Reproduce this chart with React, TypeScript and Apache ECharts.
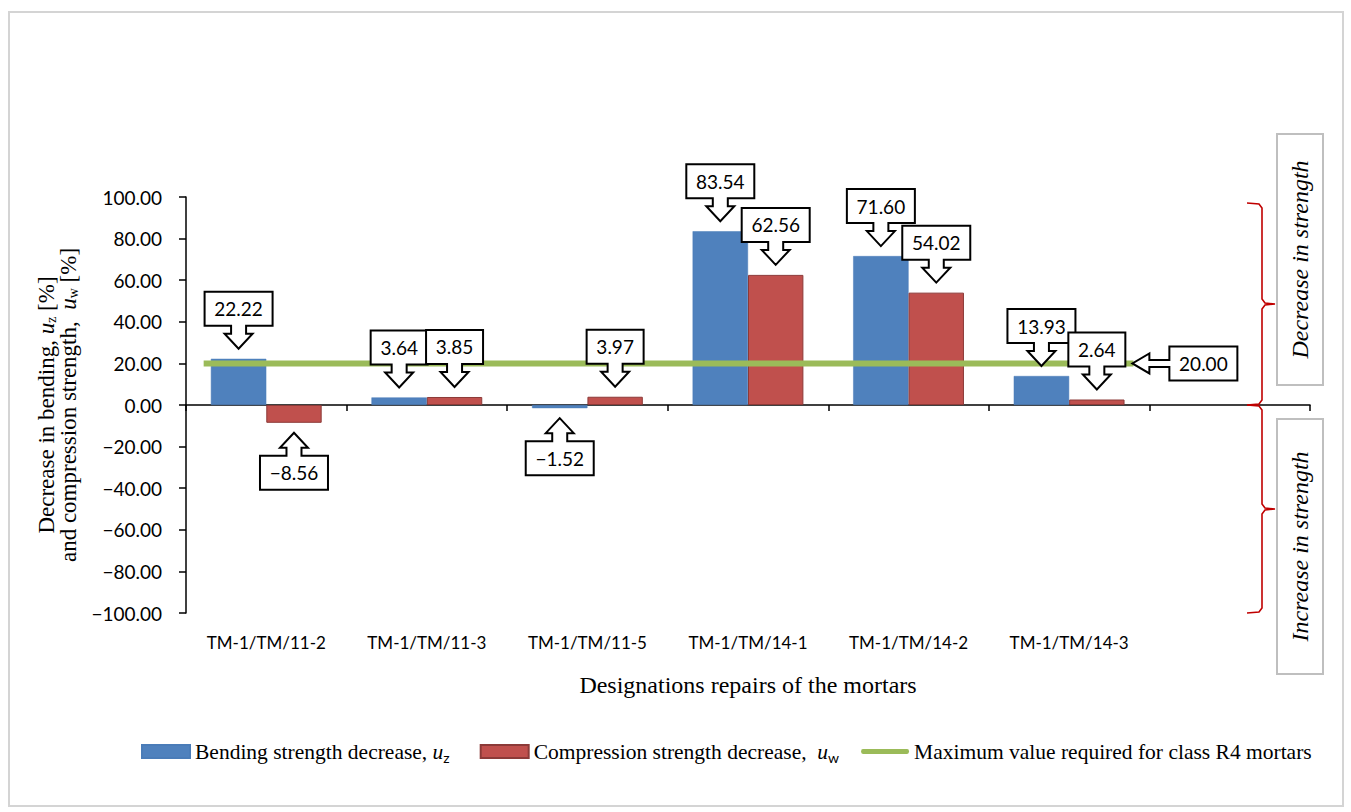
import React, { useEffect, useRef } from 'react';
import * as echarts from 'echarts';

const categories = ['TM-1/TM/11-2', 'TM-1/TM/11-3', 'TM-1/TM/11-5', 'TM-1/TM/14-1', 'TM-1/TM/14-2', 'TM-1/TM/14-3', ''];
const bendingDecrease = [22.22, 3.64, -1.52, 83.54, 71.6, 13.93];
const compressionDecrease = [-8.56, 3.85, 3.97, 62.56, 54.02, 2.64];
const limitValue = 20;
const limitSpan = [0.11, 5.9];
const yMin = -100;
const yMax = 100;
const yInterval = 20;

const seriesNames = [
  'Bending strength decrease, uz',
  'Compression strength decrease, uw',
  'Maximum value required for class R4 mortars',
];

const SANS = 'Lato, "Open Sans", sans-serif';
const SERIF = '"Liberation Serif", "Times New Roman", serif';
const CALLOUT_FONT = '19px Lato';
const BAR_CAT_GAP = 0.31;

let measureCtx: CanvasRenderingContext2D | null = null;
function textWidth(t: string, font: string) {
  if (!measureCtx) measureCtx = document.createElement('canvas').getContext('2d');
  if (!measureCtx) return t.length * 10;
  measureCtx.font = font;
  return measureCtx.measureText(t).width;
}

const fmt = (v: number) => v.toFixed(2).replace('-', '\u2212');

function callout(tx: number, ty: number, dir: 'up' | 'down' | 'left', text: string) {
  const w = Math.round(textWidth(text, CALLOUT_FONT) + 19);
  const boxH = 34;
  let points: number[][] = [];
  let cx = tx;
  let cy = ty;
  if (dir === 'down' || dir === 'up') {
    const shaftLen = 8, headLen = 15, sh = 7.5, hh = 14;
    const s = dir === 'down' ? -1 : 1;
    const b1 = ty + s * (headLen + shaftLen);
    const b0 = b1 + s * boxH;
    const hb = b1 - s * shaftLen;
    points = [
      [tx - w / 2, b0], [tx + w / 2, b0], [tx + w / 2, b1], [tx + sh, b1], [tx + sh, hb],
      [tx + hh, hb], [tx, ty], [tx - hh, hb], [tx - sh, hb], [tx - sh, b1], [tx - w / 2, b1],
    ];
    cy = (b0 + b1) / 2;
  } else {
    const headL = 17, shaftL = 20, sh = 3.5, hh = 10;
    const bx0 = tx + headL + shaftL;
    const bx1 = bx0 + w;
    points = [
      [bx0, ty - boxH / 2], [bx1, ty - boxH / 2], [bx1, ty + boxH / 2], [bx0, ty + boxH / 2],
      [bx0, ty + sh], [tx + headL, ty + sh], [tx + headL, ty + hh], [tx, ty],
      [tx + headL, ty - hh], [tx + headL, ty - sh], [bx0, ty - sh],
    ];
    cx = (bx0 + bx1) / 2;
  }
  return {
    type: 'group',
    children: [
      { type: 'polygon', shape: { points }, style: { fill: '#fff', stroke: '#000', lineWidth: 2 } },
      {
        type: 'text',
        x: cx,
        y: cy,
        style: { text, fill: '#000', font: CALLOUT_FONT, align: 'center', verticalAlign: 'middle' },
      },
    ],
  };
}

const barCallouts = [
  ...bendingDecrease.map((v, i) => [i, v, 0]),
  ...compressionDecrease.map((v, i) => [i, v, 1]),
];

export default function App() {
  const ref = useRef<HTMLDivElement>(null);
  useEffect(() => {
    if (!ref.current) return;
    const chart = echarts.init(ref.current, undefined, { renderer: 'svg' });
    const gap = 10;
    const option: any = {
      animation: false,
      backgroundColor: '#fff',
      grid: { left: 186, right: 41, top: 197, bottom: 199 },
      legend: {
        left: 141,
        top: 739,
        padding: 0,
        itemWidth: 48,
        itemHeight: 13,
        itemGap: 16,
        data: [
          { name: seriesNames[0], icon: 'rect' },
          { name: seriesNames[1], icon: 'rect' },
          {
            name: seriesNames[2],
            icon: 'path://M2,0 L48,0 Q50,0 50,2.5 Q50,5 48,5 L2,5 Q0,5 0,2.5 Q0,0 2,0 Z',
            itemStyle: { color: '#9BBB59', borderWidth: 0 },
          },
        ],
        formatter: (name: string) => {
          if (name === seriesNames[0]) return '{a|Bending strength decrease, }{i|u}{s|z}{g|}';
          if (name === seriesNames[1]) return '{a|Compression strength decrease, }{i| u}{s|w}{h|}';
          return '{a|Maximum value required for class R4 mortars}';
        },
        textStyle: {
          padding: [0, 0, 0, 0],
          rich: {
            a: { fontFamily: SERIF, fontSize: 21.5, color: '#000', lineHeight: 24 },
            i: { fontFamily: SERIF, fontSize: 21.5, fontStyle: 'italic', color: '#000', lineHeight: 24 },
            s: { fontFamily: SANS, fontSize: 14, color: '#000', padding: [11, 0, 0, 0], lineHeight: 24 },
            g: { width: 14, lineHeight: 24 },
            h: { width: 6, lineHeight: 24 },
          },
        },
      },
      xAxis: [
        {
          type: 'category',
          data: categories,
          position: 'bottom',
          axisLine: { onZero: true, lineStyle: { color: '#000', width: 1.5 } },
          axisTick: { show: true, length: 6, lineStyle: { color: '#000', width: 1.5 } },
          axisLabel: { show: false },
          splitLine: { show: false },
        },
        {
          type: 'category',
          data: categories,
          position: 'bottom',
          axisLine: { show: false, onZero: false },
          axisTick: { show: false },
          axisLabel: { interval: 0, fontFamily: SANS, fontSize: 17, color: '#000', margin: 21 },
          name: 'Designations repairs of the mortars',
          nameLocation: 'middle',
          nameGap: 60,
          nameTextStyle: { fontFamily: SERIF, fontSize: 24, color: '#000' },
        },
        { type: 'value', min: 0, max: categories.length, show: false, position: 'top' },
      ],
      yAxis: {
        type: 'value',
        min: yMin,
        max: yMax,
        interval: yInterval,
        axisLine: { show: true, lineStyle: { color: '#000', width: 1.5 } },
        axisTick: { show: true, length: 7, lineStyle: { color: '#000', width: 1.5 } },
        splitLine: { show: false },
        axisLabel: { formatter: (v: number) => fmt(v), fontFamily: SANS, fontSize: 19, color: '#000', margin: 24 },
        name: '{a|Decrease in bending, }{i|u}{s|z}{a| [%]}\n{a|and compression strength,  }{i|u}{s|w}{a| [%]}',
        nameLocation: 'middle',
        nameRotate: 90,
        nameGap: 104,
        nameTextStyle: {
          rich: {
            a: { fontFamily: SERIF, fontSize: 23, color: '#000', lineHeight: 22 },
            i: { fontFamily: SERIF, fontSize: 23, fontStyle: 'italic', color: '#000', lineHeight: 22 },
            s: { fontFamily: SERIF, fontSize: 14, color: '#000', padding: [10, 0, 0, 0], lineHeight: 22 },
          },
        },
      },
      series: [
        {
          name: seriesNames[0],
          type: 'bar',
          data: bendingDecrease,
          barGap: '0%',
          barCategoryGap: `${BAR_CAT_GAP * 100}%`,
          itemStyle: { color: '#4F81BD', borderColor: '#4a7cb8', borderWidth: 0.5 },
          z: 2,
        },
        {
          name: seriesNames[1],
          type: 'bar',
          data: compressionDecrease,
          barGap: '0%',
          barCategoryGap: `${BAR_CAT_GAP * 100}%`,
          itemStyle: { color: '#C0504D', borderColor: '#8c3a38', borderWidth: 1 },
          z: 2,
        },
        {
          name: seriesNames[2],
          type: 'line',
          xAxisIndex: 2,
          data: limitSpan.map((x) => [x, limitValue]),
          symbol: 'none',
          lineStyle: { color: '#9BBB59', width: 6 },
          itemStyle: { color: '#9BBB59' },
          z: 3,
        },
        {
          type: 'custom',
          xAxisIndex: 0,
          data: barCallouts,
          clip: false,
          z: 10,
          silent: true,
          renderItem: (params: any, api: any) => {
            const cat = api.value(0);
            const v = api.value(1);
            const side = api.value(2);
            const p = api.coord([cat, v]);
            const bw = api.size([1, 0])[0];
            const off = ((1 - BAR_CAT_GAP) * bw) / 4;
            const tx = p[0] + (side === 0 ? -off : off);
            const dir = v >= 0 ? 'down' : 'up';
            const ty = v >= 0 ? p[1] - gap : p[1] + gap;
            return callout(tx, ty, dir, fmt(v));
          },
        },
        {
          type: 'custom',
          xAxisIndex: 2,
          data: [[limitSpan[1], limitValue]],
          clip: false,
          z: 10,
          silent: true,
          renderItem: (params: any, api: any) => {
            const p = api.coord([api.value(0), api.value(1)]);
            return callout(p[0] - 1, p[1], 'left', fmt(api.value(1)));
          },
        },
      ],
    };
    chart.setOption(option);

    const yTop = chart.convertToPixel({ yAxisIndex: 0 }, yMax) as number;
    const yZero = chart.convertToPixel({ yAxisIndex: 0 }, 0) as number;
    const yBot = chart.convertToPixel({ yAxisIndex: 0 }, yMin) as number;
    const brace = (a: number, b: number) => {
      const xv = 1262, xh = 1247, xt = 1275;
      const m = (a + b) / 2;
      return {
        type: 'polyline',
        shape: {
          points: [
            [xh, a], [xv - 3, a + 1], [xv, a + 5], [xv, m - 5], [xv + 3, m - 1], [xt, m],
            [xv + 3, m + 1], [xv, m + 5], [xv, b - 5], [xv - 3, b - 1], [xh, b],
          ],
        },
        style: { stroke: '#C00000', lineWidth: 1.6, fill: 'none' },
        z: 20,
      };
    };
    const sideBox = (y0: number, y1: number, text: string) => ({
      type: 'group',
      children: [
        { type: 'rect', shape: { x: 1277, y: y0, width: 46, height: y1 - y0 }, style: { fill: '#fff', stroke: '#bfbfbf', lineWidth: 2 } },
        {
          type: 'text',
          x: 1300,
          y: (y0 + y1) / 2,
          rotation: Math.PI / 2,
          style: { text, fill: '#000', font: `italic 24px ${SERIF}`, align: 'center', verticalAlign: 'middle' },
        },
      ],
    });
    chart.setOption({
      graphic: [
        { type: 'rect', shape: { x: 9, y: 12, width: 1334, height: 794 }, style: { fill: 'none', stroke: '#d4d4d4', lineWidth: 2 }, z: 0 },
        brace(yTop + 6, yZero),
        brace(yZero, yBot),
        sideBox(134, 385, 'Decrease in strength'),
        sideBox(419, 674, 'Increase in strength'),
      ],
    });

    return () => chart.dispose();
  }, []);
  return <div ref={ref} style={{ position: 'absolute', left: 0, top: 0, width: 1351, height: 812 }} />;
}
